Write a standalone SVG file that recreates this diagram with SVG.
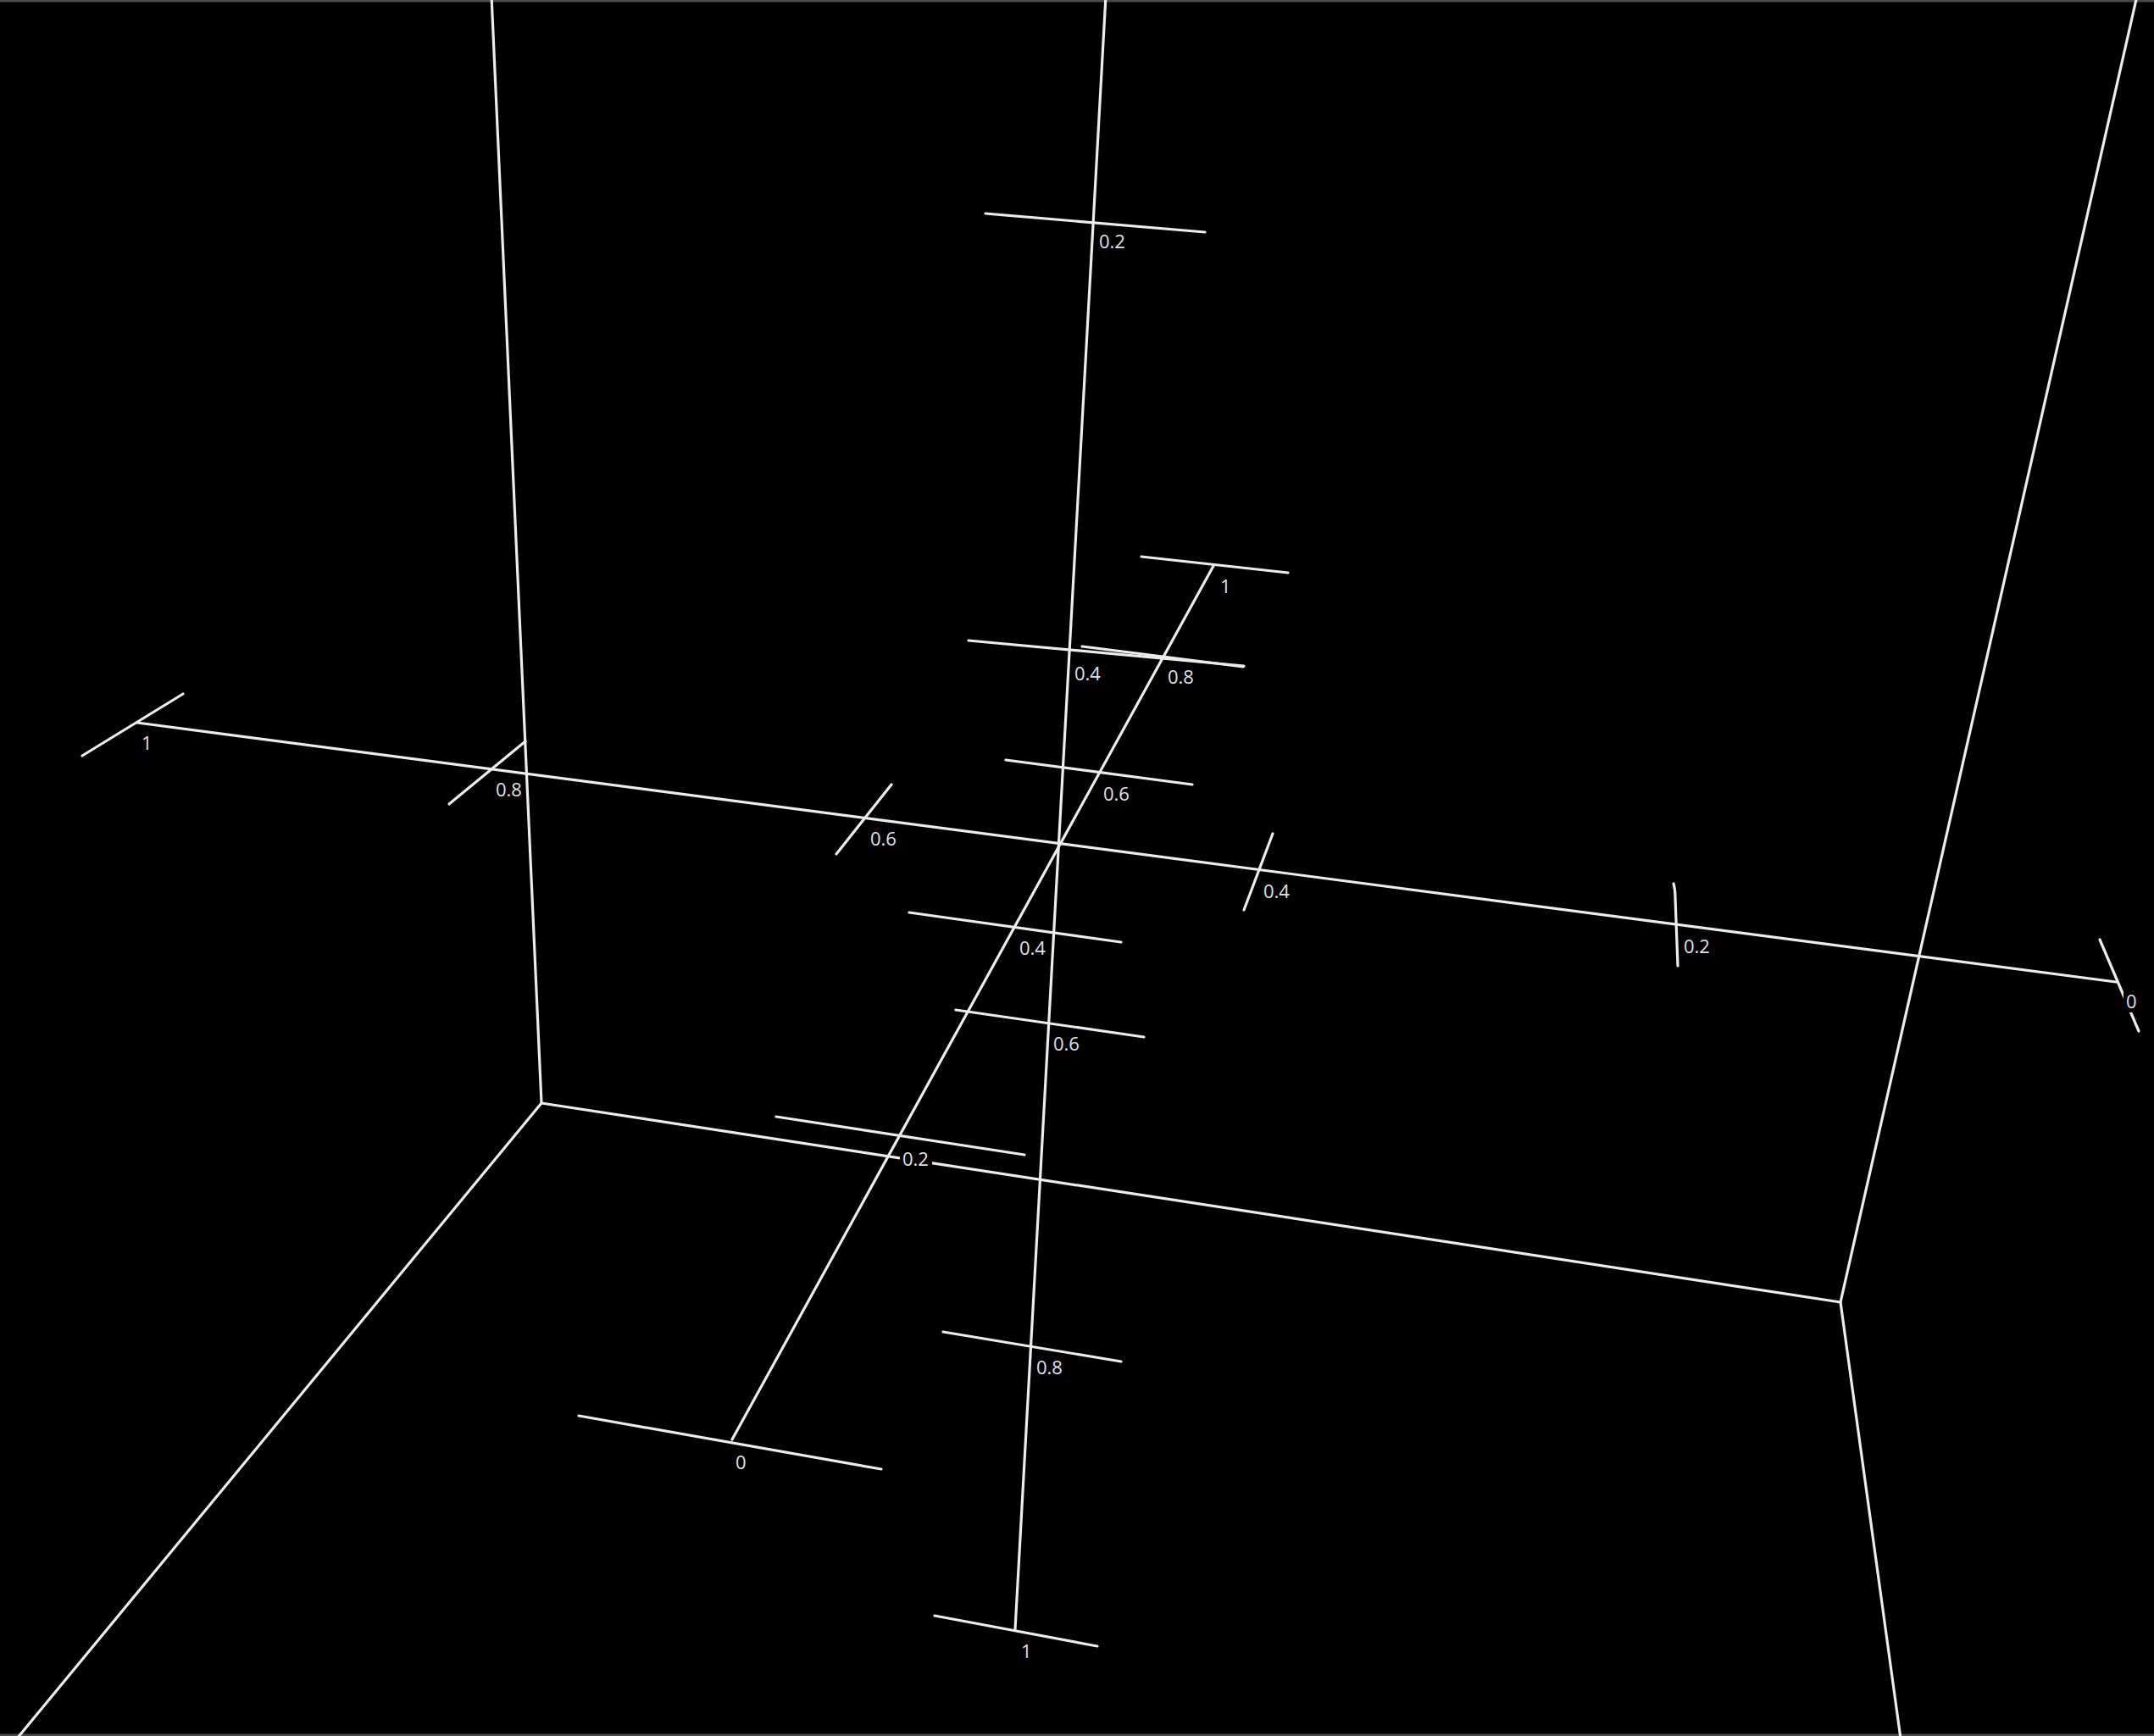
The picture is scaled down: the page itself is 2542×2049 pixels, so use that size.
<svg xmlns="http://www.w3.org/2000/svg" width="2542" height="2049" viewBox="0 0 2542 2049">
<style>
.ln{stroke:#ececec;stroke-width:3.2;fill:none;stroke-linecap:round}
.bg{fill:#000}
.lb{font-family:"Open Sans","Liberation Sans",sans-serif;font-size:22px;fill:#e2e2e2}
</style>
<rect x="0" y="0" width="2542" height="2049" fill="#000"/>
<line x1="0" y1="1" x2="2542" y2="1" stroke="#4a4a4a" stroke-width="3"/>
<line x1="0" y1="2048" x2="2542" y2="2048" stroke="#4a4a4a" stroke-width="3"/>
<g id="room">
<line class="ln" x1="580" y1="-5" x2="639" y2="1302"/>
<line class="ln" x1="639" y1="1302" x2="20" y2="2052"/>
<line class="ln" x1="639" y1="1302" x2="2172" y2="1537"/>
<line class="ln" x1="2172" y1="1537" x2="2522" y2="-5"/>
<line class="ln" x1="2172" y1="1537" x2="2243" y2="2052"/>
</g>
<g id="axes">
<line class="ln" x1="162" y1="853" x2="2497" y2="1159"/>
<line class="ln" x1="864" y1="1699" x2="1432" y2="668"/>
<line class="ln" x1="1305" y1="-5" x2="1198" y2="1923"/>
</g>
<g id="ticks">
<line class="ln" x1="97" y1="892" x2="216" y2="819"/>
<line class="ln" x1="530" y1="949" x2="620" y2="875"/>
<line class="ln" x1="987" y1="1008" x2="1052" y2="926"/>
<line class="ln" x1="1468" y1="1074" x2="1502" y2="984"/>
<path class="ln" d="M1980 1140 L1977 1060 Q1977 1050 1975 1043"/>
<line class="ln" x1="2478" y1="1109" x2="2524" y2="1217"/>
<line class="ln" x1="683" y1="1671" x2="1040" y2="1734"/>
<line class="ln" x1="916" y1="1318" x2="1209" y2="1363"/>
<line class="ln" x1="1073" y1="1077" x2="1323" y2="1112"/>
<line class="ln" x1="1187" y1="897" x2="1407" y2="926"/>
<line class="ln" x1="1277" y1="763" x2="1467" y2="787"/>
<line class="ln" x1="1347" y1="657" x2="1520" y2="676"/>
<line class="ln" x1="1163" y1="252" x2="1422" y2="274"/>
<line class="ln" x1="1143" y1="756" x2="1468" y2="786"/>
<line class="ln" x1="1128" y1="1192" x2="1350" y2="1224"/>
<line class="ln" x1="1113" y1="1572" x2="1323" y2="1607"/>
<line class="ln" x1="1103" y1="1907" x2="1295" y2="1943"/>
</g>
<g id="labels">
<rect class="bg" x="164" y="866" width="18" height="24"/><text class="lb" x="167" y="885">1</text>
<rect class="bg" x="582" y="921" width="38" height="24"/><text class="lb" x="585" y="940">0.8</text>
<rect class="bg" x="1024" y="979" width="38" height="24"/><text class="lb" x="1027" y="998">0.6</text>
<rect class="bg" x="1488" y="1041" width="38" height="24"/><text class="lb" x="1491" y="1060">0.4</text>
<rect class="bg" x="1984" y="1106" width="38" height="24"/><text class="lb" x="1987" y="1125">0.2</text>
<rect class="bg" x="2506" y="1171" width="18" height="24"/><text class="lb" x="2509" y="1190">0</text>
<rect class="bg" x="865" y="1715" width="18" height="24"/><text class="lb" x="868" y="1734">0</text>
<rect class="bg" x="1062" y="1357" width="38" height="24"/><text class="lb" x="1065" y="1376">0.2</text>
<rect class="bg" x="1200" y="1108" width="38" height="24"/><text class="lb" x="1203" y="1127">0.4</text>
<rect class="bg" x="1299" y="926" width="38" height="24"/><text class="lb" x="1302" y="945">0.6</text>
<rect class="bg" x="1375" y="788" width="38" height="24"/><text class="lb" x="1378" y="807">0.8</text>
<rect class="bg" x="1437" y="681" width="18" height="24"/><text class="lb" x="1440" y="700">1</text>
<rect class="bg" x="1294" y="276" width="38" height="22"/><text class="lb" x="1297" y="293">0.2</text>
<rect class="bg" x="1266" y="786" width="37" height="22"/><text class="lb" x="1268" y="803">0.4</text>
<rect class="bg" x="1242" y="1223" width="38" height="22"/><text class="lb" x="1243" y="1240">0.6</text>
<rect class="bg" x="1221" y="1605" width="38" height="22"/><text class="lb" x="1223" y="1622">0.8</text>
<rect class="bg" x="1203" y="1940" width="18" height="22"/><text class="lb" x="1205" y="1957">1</text>
</g>
</svg>
